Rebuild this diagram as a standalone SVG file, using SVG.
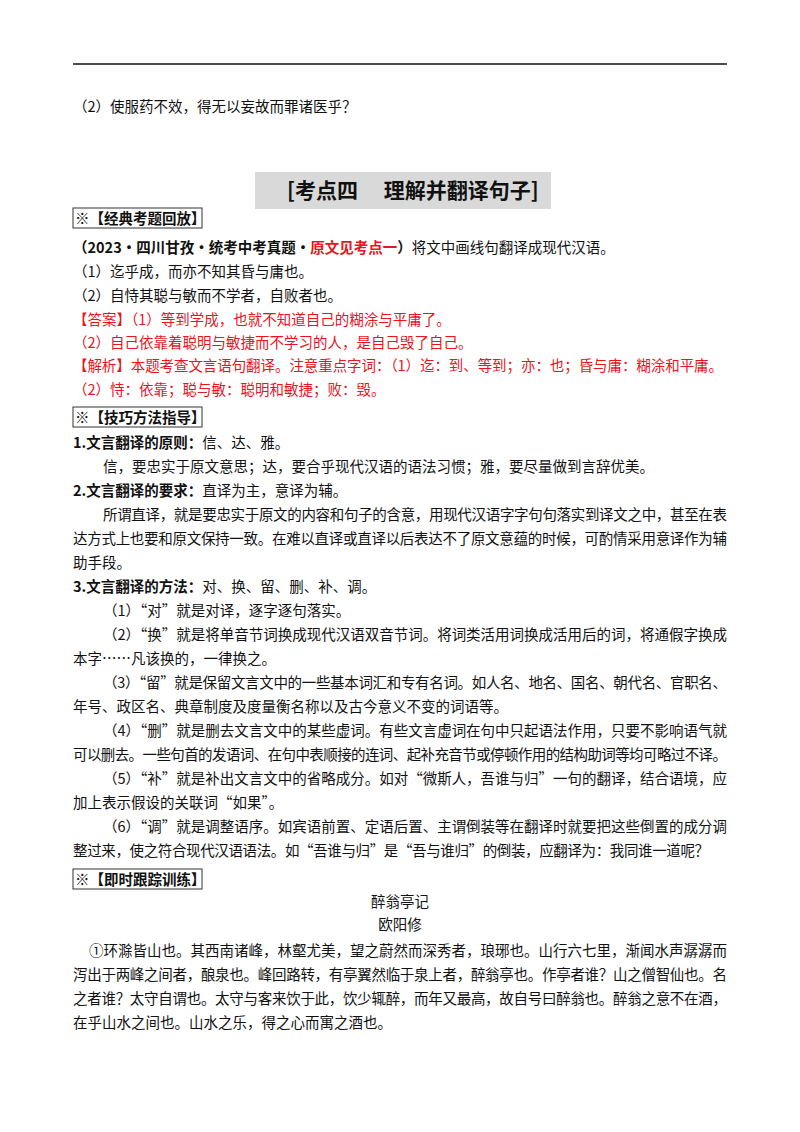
<svg xmlns="http://www.w3.org/2000/svg" width="800" height="1132" viewBox="0 0 800 1132">
<style>
text{font-family:"Noto Sans CJK SC","Liberation Serif",serif;font-size:14.5px;fill:#111}
.b{font-weight:bold}
.r{fill:#e8141e}
.box{fill:none;stroke:#333;stroke-width:1}
</style>
<rect width="800" height="1132" fill="#fff"/>
<line x1="73" y1="64" x2="727" y2="64" stroke="#111" stroke-width="1.5"/>
<text x="73" y="112">（2）使服药不效，得无以妄故而罪诸医乎？</text>
<g id="title">
<rect x="255" y="172" width="296" height="37" fill="#d9d9d9"/>
<text x="287" y="198" class="b" style="font-size:21px">[考点四　 理解并翻译句子]</text>
</g>
<g id="sec1">
<rect class="box" x="73" y="208" width="129" height="20"/>
<text x="75" y="224" class="b">※【经典考题回放】</text>
</g>
<text x="73" y="253"><tspan class="b">（2023・四川甘孜・统考中考真题・</tspan><tspan class="b r">原文见考点一</tspan><tspan class="b">）</tspan>将文中画线句翻译成现代汉语。</text>
<text x="73" y="277">（1）迄乎成，而亦不知其昏与庸也。</text>
<text x="73" y="301">（2）自恃其聪与敏而不学者，自败者也。</text>
<text x="73" y="325" class="r">【答案】（1）等到学成，也就不知道自己的糊涂与平庸了。</text>
<text x="73" y="348" class="r">（2）自己依靠着聪明与敏捷而不学习的人，是自己毁了自己。</text>
<text x="73" y="371" class="r" textLength="650">【解析】本题考查文言语句翻译。注意重点字词：（1）迄：到、等到；亦：也；昏与庸：糊涂和平庸。</text>
<text x="73" y="395" class="r">（2）恃：依靠；聪与敏：聪明和敏捷；败：毁。</text>
<g id="sec2">
<rect class="box" x="73" y="407" width="129" height="20"/>
<text x="75" y="423" class="b">※【技巧方法指导】</text>
</g>
<text x="73" y="448"><tspan class="b">1.文言翻译的原则：</tspan>信、达、雅。</text>
<text x="103" y="472">信，要忠实于原文意思；达，要合乎现代汉语的语法习惯；雅，要尽量做到言辞优美。</text>
<text x="73" y="496"><tspan class="b">2.文言翻译的要求：</tspan>直译为主，意译为辅。</text>
<text x="103" y="520" textLength="624">所谓直译，就是要忠实于原文的内容和句子的含意，用现代汉语字字句句落实到译文之中，甚至在表</text>
<text x="73" y="544" textLength="654">达方式上也要和原文保持一致。在难以直译或直译以后表达不了原文意蕴的时候，可酌情采用意译作为辅</text>
<text x="73" y="568">助手段。</text>
<text x="73" y="592"><tspan class="b">3.文言翻译的方法：</tspan>对、换、留、删、补、调。</text>
<text x="103" y="616">（1）“对”就是对译，逐字逐句落实。</text>
<text x="103" y="640" textLength="624">（2）“换”就是将单音节词换成现代汉语双音节词。将词类活用词换成活用后的词，将通假字换成</text>
<text x="73" y="664">本字……凡该换的，一律换之。</text>
<text x="103" y="688" textLength="624">（3）“留”就是保留文言文中的一些基本词汇和专有名词。如人名、地名、国名、朝代名、官职名、</text>
<text x="73" y="712">年号、政区名、典章制度及度量衡名称以及古今意义不变的词语等。</text>
<text x="103" y="736" textLength="624">（4）“删”就是删去文言文中的某些虚词。有些文言虚词在句中只起语法作用，只要不影响语气就</text>
<text x="73" y="760" textLength="654">可以删去。一些句首的发语词、在句中表顺接的连词、起补充音节或停顿作用的结构助词等均可略过不译。</text>
<text x="103" y="784" textLength="624">（5）“补”就是补出文言文中的省略成分。如对“微斯人，吾谁与归”一句的翻译，结合语境，应</text>
<text x="73" y="808">加上表示假设的关联词“如果”。</text>
<text x="103" y="832" textLength="624">（6）“调”就是调整语序。如宾语前置、定语后置、主谓倒装等在翻译时就要把这些倒置的成分调</text>
<text x="73" y="856" textLength="636">整过来，使之符合现代汉语语法。如“吾谁与归”是“吾与谁归”的倒装，应翻译为：我同谁一道呢？</text>
<g id="sec3">
<rect class="box" x="73" y="869" width="129" height="20"/>
<text x="75" y="885" class="b">※【即时跟踪训练】</text>
</g>
<text x="400" y="907" text-anchor="middle">醉翁亭记</text>
<text x="400" y="930" text-anchor="middle">欧阳修</text>
<text x="89" y="956" textLength="638">①环滁皆山也。其西南诸峰，林壑尤美，望之蔚然而深秀者，琅琊也。山行六七里，渐闻水声潺潺而</text>
<text x="73" y="980" textLength="654">泻出于两峰之间者，酿泉也。峰回路转，有亭翼然临于泉上者，醉翁亭也。作亭者谁？山之僧智仙也。名</text>
<text x="73" y="1004" textLength="654">之者谁？太守自谓也。太守与客来饮于此，饮少辄醉，而年又最高，故自号曰醉翁也。醉翁之意不在酒，</text>
<text x="73" y="1028">在乎山水之间也。山水之乐，得之心而寓之酒也。</text>
</svg>
